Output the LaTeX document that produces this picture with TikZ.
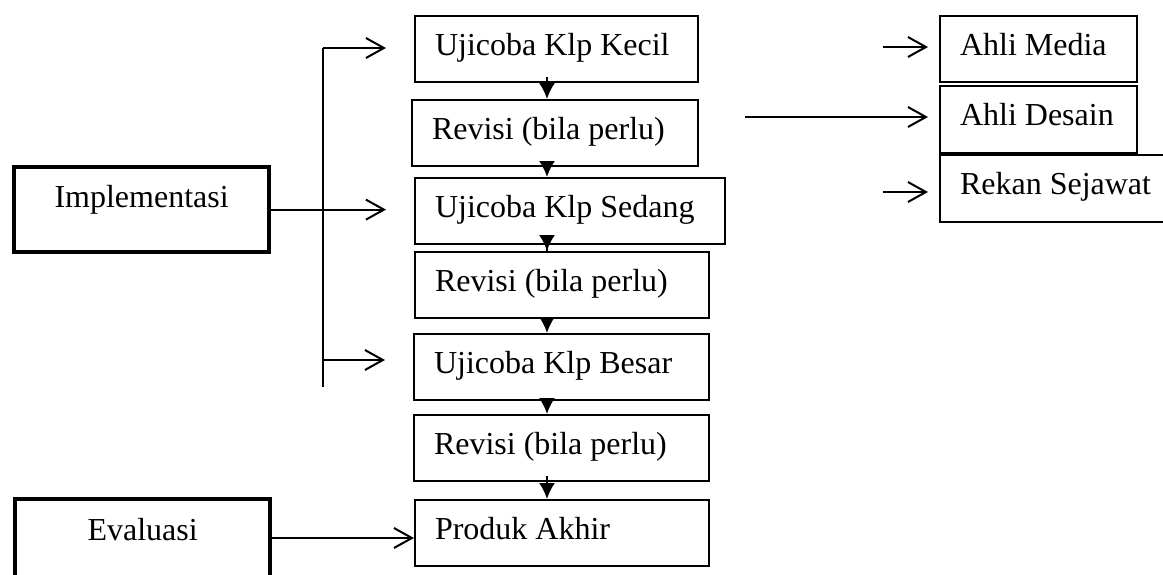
\documentclass[tikz,border=0pt]{standalone}
\usepackage{fontspec}
\setmainfont{Liberation Serif}
\usepackage{tikz}
\usetikzlibrary{arrows.meta,calc,positioning}

\tikzset{
  box/.style={draw, line width=0.75pt, anchor=north west, inner xsep=7.5pt, inner ysep=0pt,
    text height=14.625pt, text depth=10.125pt, align=flush left, text width=#1,
    font=\fontsize{12pt}{14pt}\selectfont},
  bigbox/.style={draw, line width=1.6pt, anchor=north west, inner xsep=7.5pt, inner ysep=0pt,
    text height=15pt, align=flush center, text width=80.625pt,
    font=\fontsize{12pt}{14pt}\selectfont},
  down/.style={line width=0.75pt, shorten <=-2.25pt, -{Latex[length=6pt,width=6pt]}},
  open/.style={line width=0.75pt, -{Straight Barb[length=6.75pt,width=7.5pt]}}
}

\begin{document}
\begin{tikzpicture}[x=0.375pt, y=-0.375pt]
\useasboundingbox (0,0) rectangle (1163,575);
\clip (0,0) rectangle (1163,575);

% middle column
\node[box=91.125pt] (kecil) at (414,15) {Ujicoba Klp Kecil};
\node[box=92.25pt] (rev1) at (411,99) {Revisi (bila perlu)};
\node[box=101.25pt] (sedang) at (414,177) {Ujicoba Klp Sedang};
\node[box=95.25pt] (rev2) at (414,251) {Revisi (bila perlu)};
\node[box=95.625pt] (besar) at (413,333) {Ujicoba Klp Besar};
\node[box=95.625pt] (rev3) at (413,414) {Revisi (bila perlu)};
\node[box=95.25pt] (produk) at (414,499) {Produk Akhir};

% left column
\node[bigbox, text depth=16.875pt] (impl) at (12,165) {Implementasi};
\node[bigbox, text height=15.375pt, text depth=25.875pt] (eval) at (13,497) {Evaluasi};

% right column
\node[box=58.875pt] (media) at (939,15) {Ahli Media};
\node[box=58.875pt, text depth=10.5pt] (desain) at (939,85) {Ahli Desain};
\node[box=82.5pt, text depth=10.5pt] (rekan) at (939,154) {Rekan Sejawat};

\coordinate (ax) at (547,0);
\draw[down] (kecil.south -| ax) -- (rev1.north -| ax);
\draw[down] (rev1.south -| ax) -- (sedang.north -| ax);
\draw[down] (sedang.south -| ax) -- (rev2.north -| ax);
\draw[down] (rev2.south -| ax) -- (besar.north -| ax);
\draw[down] (besar.south -| ax) -- (rev3.north -| ax);
\draw[down] (rev3.south -| ax) -- (produk.north -| ax);

\coordinate (trunk) at (323,48);
\coordinate (trunkend) at (323,387);
\coordinate (bbranch) at (323,360);
\draw[line width=0.75pt] (trunk) -- (trunkend);
\draw[open, shorten >=10.5pt] (trunk) -- (trunk -| kecil.west);
\draw[open, shorten >=10.5pt] (impl.east) -- (impl.east -| sedang.west);
\draw[open, shorten >=10.5pt] (bbranch) -- (bbranch -| besar.west);

\coordinate (evalout) at (268,538);
\draw[open] (evalout) -- (evalout -| produk.west);

\coordinate (mfrom) at (883,47);
\coordinate (dfrom) at (745,117);
\coordinate (rfrom) at (883,192);
\draw[open, shorten >=4.125pt] (mfrom) -- (mfrom -| media.west);
\draw[open, shorten >=4.125pt] (dfrom) -- (dfrom -| desain.west);
\draw[open, shorten >=4.125pt] (rfrom) -- (rfrom -| rekan.west);
\end{tikzpicture}
\end{document}
